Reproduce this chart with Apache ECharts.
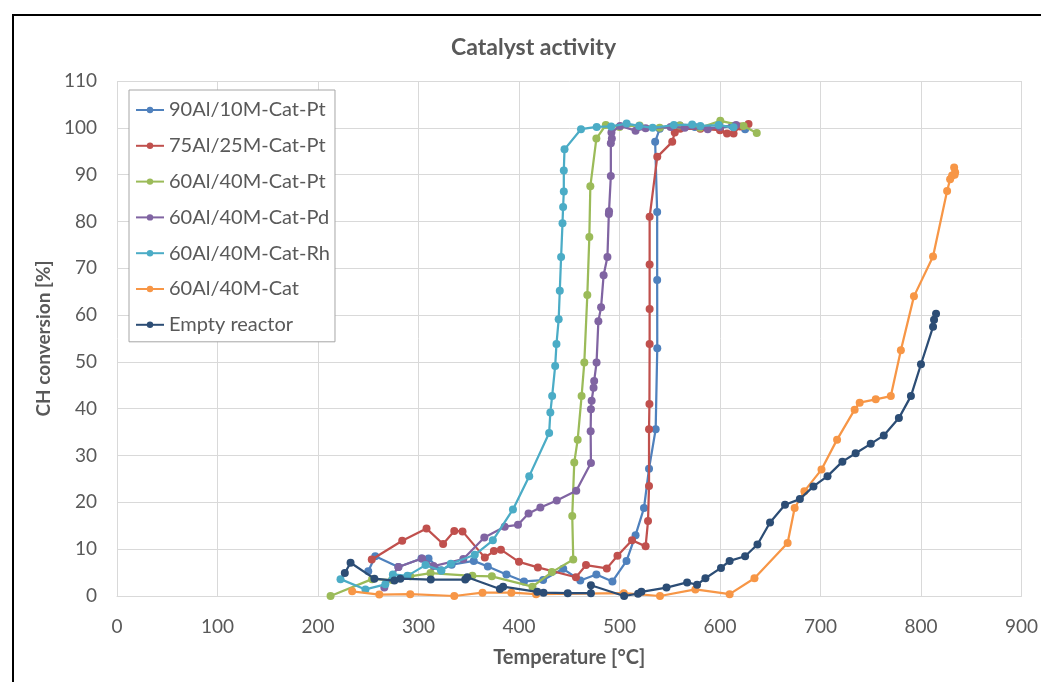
<!DOCTYPE html>
<html><head><meta charset="utf-8">
<script src="https://cdn.jsdelivr.net/npm/echarts@6/dist/echarts.min.js"></script>
<style>html,body{margin:0;padding:0;background:#fff}#c{width:1041px;height:682px}</style>
</head><body><div id="c"></div>
<script>
const xTicks = [0,100,200,300,400,500,600,700,800,900];
const yTicks = [0,10,20,30,40,50,60,70,80,90,100,110];
const seriesNames = ['90Al/10M-Cat-Pt','75Al/25M-Cat-Pt','60Al/40M-Cat-Pt','60Al/40M-Cat-Pd','60Al/40M-Cat-Rh','60Al/40M-Cat','Empty reactor'];

const cat90Pt = [[250,5.3],[257,8.5],[280,6.2],[303,8.0],[310,8.0],[322.5,5.5],[333,6.7],[355,7.5],[369,6.3],[387.5,4.6],[405,3.1],[424,3.4],[444,5.8],[461,3.3],[477,4.6],[493,3.1],[507,7.5],[516,13.0],[524.4,18.8],[529.4,27.2],[536,35.6],[537.6,52.9],[537.5,67.5],[537.5,82.0],[535.5,97.0],[540,99.8],[560,100.5],[575,100.2],[600,100.0],[612,100.4],[625,99.7]];
const cat75Pt = [[253.5,7.8],[283.8,11.8],[308,14.4],[324.5,11.1],[335.6,13.9],[343.8,13.8],[366,8.2],[375,9.6],[382,9.9],[400,7.3],[418.8,6.1],[456.7,4.0],[466.7,6.6],[487.4,5.9],[498,8.6],[512.5,11.9],[526,10.6],[528.4,16.0],[529.4,23.5],[529.4,35.6],[529.8,41.0],[530,53.8],[530,61.3],[530,70.8],[530,81.0],[537.6,93.8],[552.5,97.0],[555,99.0],[560.4,99.8],[580.5,99.8],[600,99.5],[607,98.8],[613.5,98.8],[620,100.3],[628.4,100.8]];
const cat60Pt = [[212.5,0.0],[253.8,3.6],[273.6,3.4],[291.8,4.2],[312,4.9],[353.6,4.3],[373,4.2],[413.4,2.0],[432.7,5.1],[454,7.8],[453,17.1],[455,28.5],[458.4,33.4],[462.3,42.7],[465,49.9],[468,64.3],[470,76.7],[471,87.5],[477,97.7],[486.4,100.6],[500,100.2],[520,100.5],[540,100.0],[560,100.5],[580,100.0],[600.3,101.5],[623.4,100.4],[636.6,98.9]];
const cat60Pd = [[266,1.8],[280,6.2],[303.5,8.0],[315,6.4],[344.6,7.9],[365.5,12.5],[385.8,14.8],[399,15.2],[409.5,17.6],[421.3,18.9],[437.6,20.4],[457,22.5],[471.6,28.4],[471.3,35.2],[471.6,39.9],[472.3,41.7],[474.2,44.5],[474.8,45.9],[477.2,49.9],[479,58.7],[481.7,61.7],[484.2,68.5],[488,72.4],[489.4,81.6],[489.6,82.2],[491.4,89.7],[491.4,96.7],[492.4,97.7],[492,99.0],[500.7,100.4],[516,99.4],[526,99.9],[550.8,100.2],[565,100.0],[587.8,99.7],[600,100.2],[616,100.6]];
const cat60Rh = [[222.4,3.6],[247.2,1.4],[267,2.5],[274.5,4.6],[289,4.3],[307,6.6],[322.8,5.4],[332.2,6.9],[356,8.8],[374,11.9],[394,18.5],[410.2,25.6],[430,34.8],[431.2,39.2],[433,42.7],[436,49.1],[437.3,53.8],[439.5,59.1],[440.6,65.2],[441.9,72.4],[443.3,79.6],[443.9,83.1],[444.6,86.4],[444.6,90.9],[445.3,95.4],[461.7,99.7],[477.3,100.2],[491.7,100.3],[507.1,100.9],[519.5,100.4],[533,100.0],[554.1,100.6],[572.3,100.7],[580.5,100.4],[598.7,100.6],[613.5,100.1]];
const cat60 = [[234,1.0],[261,0.3],[291.8,0.4],[335.6,0.0],[363.7,0.7],[392.4,0.7],[417,0.4],[504.3,0.6],[540.3,0.0],[575.5,1.4],[609.6,0.4],[634.3,3.8],[667.3,11.3],[674.3,18.8],[684,22.4],[701,27.0],[716.5,33.4],[734,39.8],[739,41.3],[755,42.0],[770,42.7],[780,52.5],[793,64.0],[812,72.5],[826,86.5],[829,89.0],[831,89.8],[833,91.5],[834,90.5],[833.5,90.0]];
const emptyReactor = [[226.7,4.9],[232.4,7.1],[256.1,3.7],[276,3.3],[281.9,3.7],[312.2,3.5],[346.5,3.5],[348.6,4.0],[381,1.5],[384.2,2.0],[418.2,0.9],[424.4,0.7],[448.5,0.6],[471.6,0.6],[471.6,2.3],[504.6,0.0],[518.5,0.5],[521.8,0.9],[546.8,1.8],[567.3,2.9],[577.2,2.4],[585.5,3.8],[601,6.0],[609.6,7.5],[625,8.5],[637.3,11.0],[649.8,15.7],[664.7,19.5],[679.5,20.7],[693,23.4],[707,25.6],[721.8,28.7],[735,30.5],[750,32.5],[763,34.3],[778,38.0],[790,42.7],[800,49.5],[812,57.5],[813,59.0],[815,60.3]];

const allData = [cat90Pt, cat75Pt, cat60Pt, cat60Pd, cat60Rh, cat60, emptyReactor];
const colors = ['#4F81BD','#C0504D','#9BBB59','#8064A2','#4BACC6','#F79646','#2C4D75'];
const FONT = 'Lato, "Open Sans", sans-serif';

const chart = echarts.init(document.getElementById('c'), null, {renderer:'canvas'});
chart.setOption({
  animation: false,
  backgroundColor: '#fff',
  color: colors,
  title: {
    text: 'Catalyst activity', left: 446, top: 31,
    textStyle: {fontFamily: FONT, fontSize: 23, fontWeight: 'bold', color: '#595959'}
  },
  graphic: [{
    type: 'rect', shape: {x: 13, y: 15, width: 1100, height: 800},
    style: {fill: null, stroke: '#000', lineWidth: 2}, silent: true, z: 100
  }],
  legend: {
    orient: 'vertical', left: 129, top: 90,
    padding: [9, 5, 6, 6], itemGap: 13.8, itemWidth: 28, itemHeight: 8,
    backgroundColor: '#fff', borderColor: '#a6a6a6', borderWidth: 1,
    textStyle: {fontFamily: FONT, fontSize: 20, color: '#595959', lineHeight: 22},
    data: seriesNames
  },
  grid: {left: 117, right: 15, top: 81, bottom: 86, containLabel: false},
  xAxis: {
    type: 'value', min: xTicks[0], max: xTicks[xTicks.length-1], interval: 100,
    name: 'Temperature [°C]', nameLocation: 'middle', nameGap: 52,
    nameTextStyle: {fontFamily: FONT, fontSize: 20, fontWeight: 'bold', color: '#595959'},
    axisLine: {show: true, lineStyle: {color: '#d9d9d9', width: 1}},
    axisTick: {show: false},
    axisLabel: {margin: 21, fontFamily: FONT, fontSize: 19, color: '#595959'},
    splitLine: {show: true, lineStyle: {color: '#d9d9d9', width: 1}}
  },
  yAxis: {
    type: 'value', min: yTicks[0], max: yTicks[yTicks.length-1], interval: 10,
    name: 'CH conversion [%]', nameLocation: 'middle', nameGap: 62, nameRotate: 90,
    nameTextStyle: {fontFamily: FONT, fontSize: 19, fontWeight: 'bold', color: '#595959'},
    axisLine: {show: false}, axisTick: {show: false},
    axisLabel: {margin: 20, fontFamily: FONT, fontSize: 19, color: '#595959'},
    splitLine: {show: true, lineStyle: {color: '#d9d9d9', width: 1}}
  },
  series: seriesNames.map((n, i) => ({
    name: n, type: 'line', data: allData[i],
    symbol: 'circle', symbolSize: 8, showSymbol: true,
    lineStyle: {width: 2.25, color: colors[i]},
    itemStyle: {color: colors[i]},
    z: 2 + i
  }))
});
</script></body></html>
